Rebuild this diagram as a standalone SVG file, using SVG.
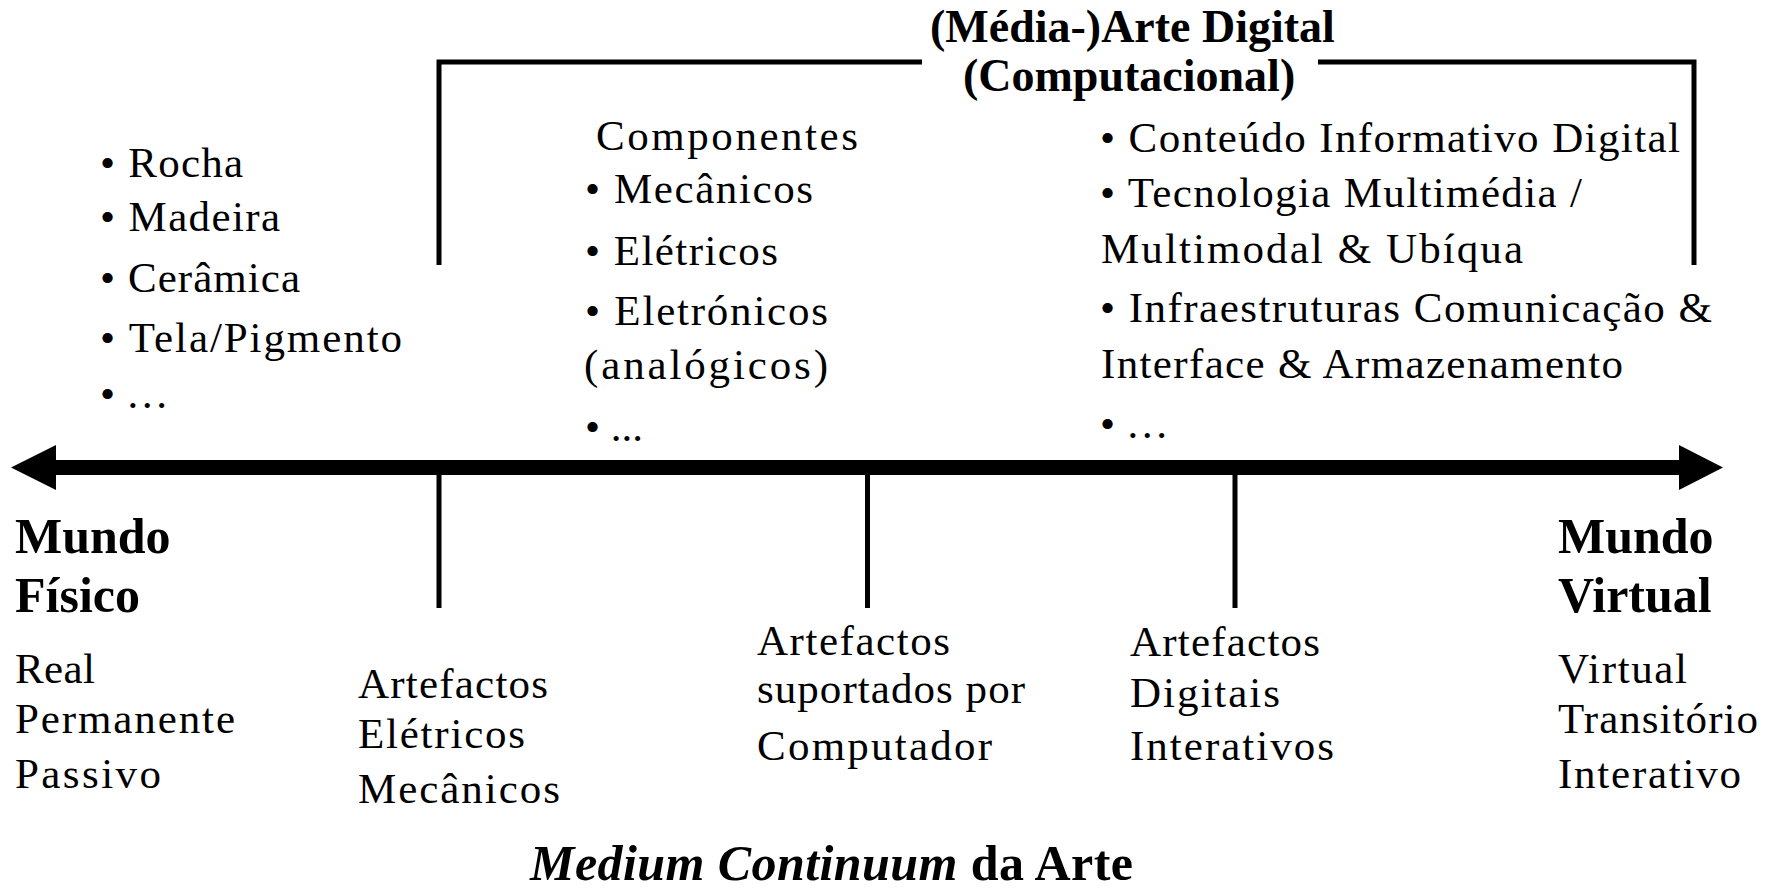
<svg xmlns="http://www.w3.org/2000/svg" width="1783" height="892" viewBox="0 0 1783 892">
<style>
text{font-family:"Liberation Serif","Times New Roman",serif;fill:#000}
.r{font-size:43px}
.b{font-size:50px;font-weight:bold}
.t{font-size:46px;font-weight:bold}
.ln{stroke:#000;stroke-width:5;fill:none}
.ax{stroke:#000;stroke-width:15;fill:none}
</style>
<rect width="1783" height="892" fill="#fff"/>
<g id="connectors">
<line class="ax" x1="54" y1="467.5" x2="1681" y2="467.5"/>
<polygon points="56,445 11,467.5 56,490" fill="#000"/>
<polygon points="1679,445 1723,467.5 1679,490" fill="#000"/>
<line class="ln" x1="439" y1="467" x2="439" y2="608"/>
<line class="ln" x1="867.5" y1="467" x2="867.5" y2="608"/>
<line class="ln" x1="1235" y1="467" x2="1235" y2="608"/>
<path class="ln" d="M439,265 V62 H922 M1318,62 H1694 V265"/>
</g>
<g id="title">
<text class="t" x="930" y="42">(Média-)Arte Digital</text>
<text class="t" x="963" y="91">(Computacional)</text>
</g>
<g id="list-physical">
<text class="r" x="100" y="177" textLength="143" lengthAdjust="spacing">• Rocha</text>
<text class="r" x="100" y="231" textLength="180" lengthAdjust="spacing">• Madeira</text>
<text class="r" x="100" y="292" textLength="200" lengthAdjust="spacing">• Cerâmica</text>
<text class="r" x="100" y="352" textLength="302" lengthAdjust="spacing">• Tela/Pigmento</text>
<text class="r" x="100" y="408">• …</text>
</g>
<g id="list-components">
<text class="r" x="596" y="150" textLength="262" lengthAdjust="spacing">Componentes</text>
<text class="r" x="585" y="203" textLength="228" lengthAdjust="spacing">• Mecânicos</text>
<text class="r" x="585" y="265" textLength="193" lengthAdjust="spacing">• Elétricos</text>
<text class="r" x="585" y="325" textLength="243" lengthAdjust="spacing">• Eletrónicos</text>
<text class="r" x="584" y="379" textLength="244" lengthAdjust="spacing">(analógicos)</text>
<text class="r" x="585" y="441">• ...</text>
</g>
<g id="list-digital">
<text class="r" x="1100" y="152" textLength="580" lengthAdjust="spacing">• Conteúdo Informativo Digital</text>
<text class="r" x="1100" y="207" textLength="482" lengthAdjust="spacing">• Tecnologia Multimédia /</text>
<text class="r" x="1101" y="263" textLength="422" lengthAdjust="spacing">Multimodal &amp; Ubíqua</text>
<text class="r" x="1100" y="322" textLength="612" lengthAdjust="spacing">• Infraestruturas Comunicação &amp;</text>
<text class="r" x="1101" y="378" textLength="522" lengthAdjust="spacing">Interface &amp; Armazenamento</text>
<text class="r" x="1100" y="438">• …</text>
</g>
<g id="mundo-fisico">
<text class="b" x="15" y="553">Mundo</text>
<text class="b" x="15" y="612">Físico</text>
<text class="r" x="15" y="683" textLength="80" lengthAdjust="spacing">Real</text>
<text class="r" x="15" y="733" textLength="220" lengthAdjust="spacing">Permanente</text>
<text class="r" x="15" y="788" textLength="146" lengthAdjust="spacing">Passivo</text>
</g>
<g id="artefactos-eletricos">
<text class="r" x="358" y="698" textLength="190" lengthAdjust="spacing">Artefactos</text>
<text class="r" x="358" y="748" textLength="167" lengthAdjust="spacing">Elétricos</text>
<text class="r" x="358" y="803" textLength="202" lengthAdjust="spacing">Mecânicos</text>
</g>
<g id="artefactos-computador">
<text class="r" x="757" y="655" textLength="193" lengthAdjust="spacing">Artefactos</text>
<text class="r" x="757" y="703" textLength="268" lengthAdjust="spacing">suportados por</text>
<text class="r" x="757" y="760" textLength="235" lengthAdjust="spacing">Computador</text>
</g>
<g id="artefactos-digitais">
<text class="r" x="1130" y="656" textLength="190" lengthAdjust="spacing">Artefactos</text>
<text class="r" x="1130" y="707" textLength="150" lengthAdjust="spacing">Digitais</text>
<text class="r" x="1130" y="760" textLength="204" lengthAdjust="spacing">Interativos</text>
</g>
<g id="mundo-virtual">
<text class="b" x="1558" y="553">Mundo</text>
<text class="b" x="1558" y="612">Virtual</text>
<text class="r" x="1558" y="683" textLength="129" lengthAdjust="spacing">Virtual</text>
<text class="r" x="1558" y="733" textLength="200" lengthAdjust="spacing">Transitório</text>
<text class="r" x="1558" y="788" textLength="183" lengthAdjust="spacing">Interativo</text>
</g>
<g id="footer">
<text x="530" y="880" textLength="603" lengthAdjust="spacing" style="font-size:50px;font-weight:bold"><tspan font-style="italic">Medium Continuum</tspan> da Arte</text>
</g>
</svg>
